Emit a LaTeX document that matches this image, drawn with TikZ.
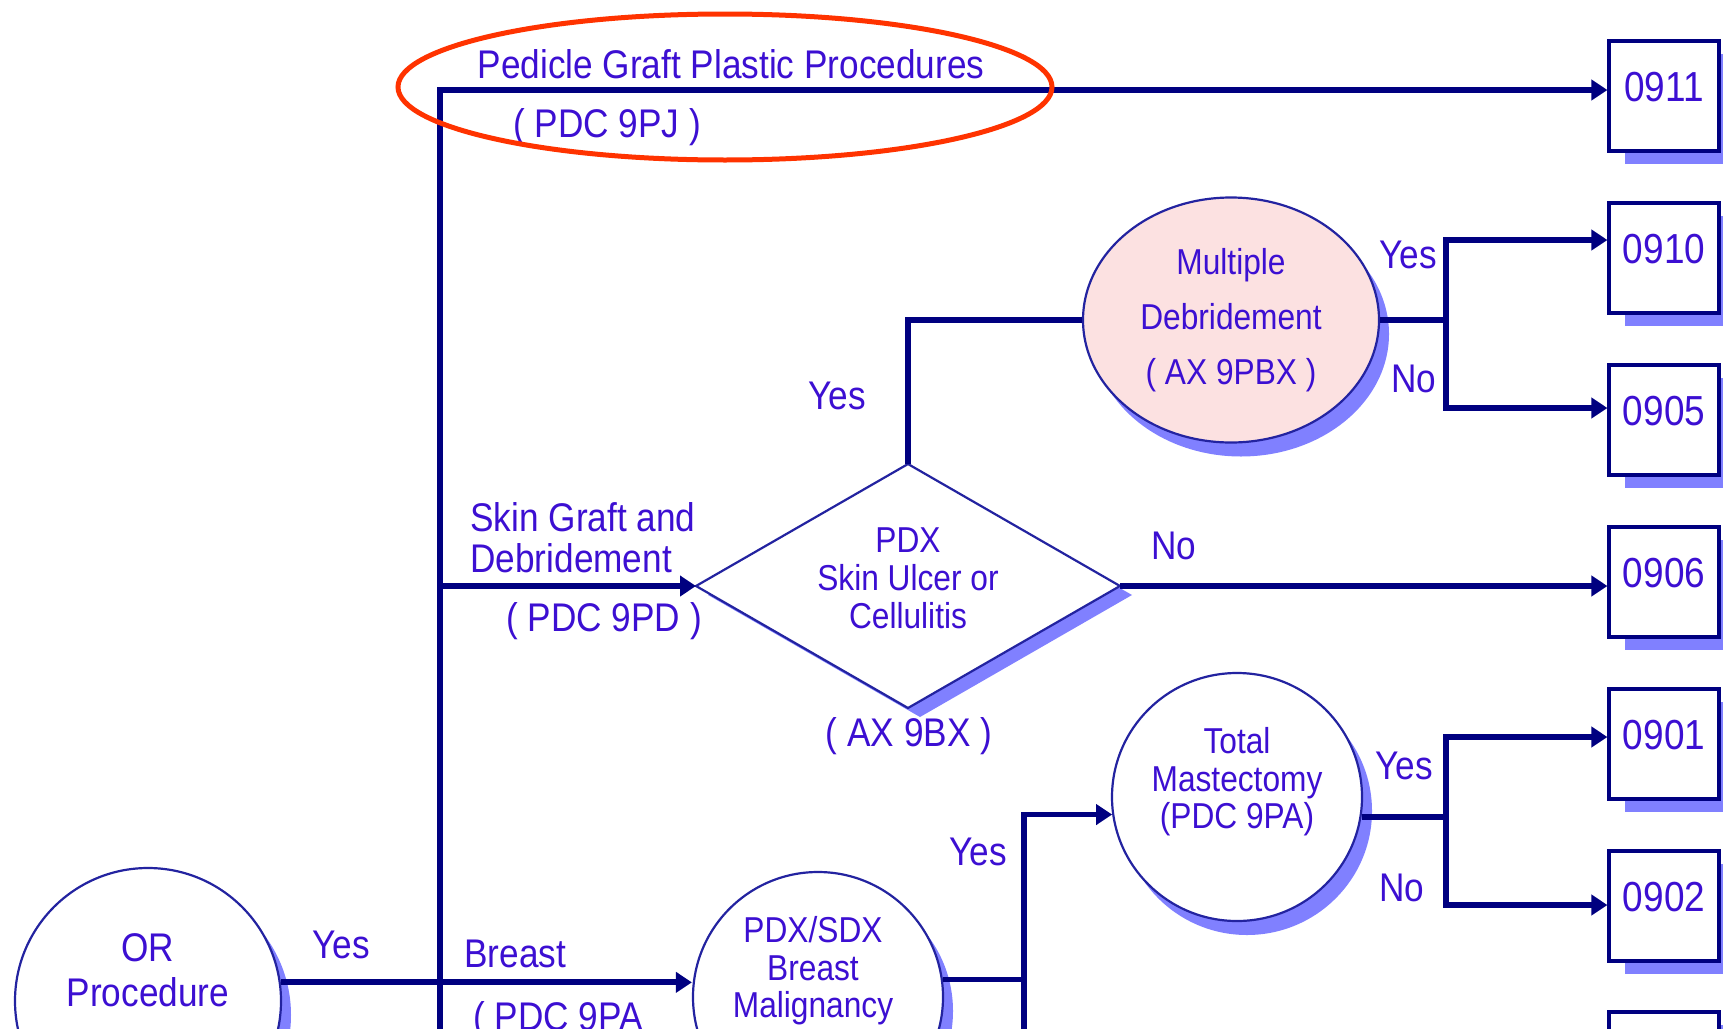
\documentclass[tikz,border=0pt]{standalone}
\usepackage{fontspec}
\setmainfont{Liberation Sans}[FakeStretch=0.88]
\usetikzlibrary{arrows.meta,shapes.geometric,shadows}
\definecolor{navy}{RGB}{0,0,128}
\definecolor{txtc}{RGB}{60,15,210}
\definecolor{shadowc}{RGB}{128,128,255}
\definecolor{edgec}{RGB}{35,35,160}
\definecolor{pinkc}{RGB}{252,225,225}
\definecolor{redc}{RGB}{255,51,0}
\begin{document}
\begin{tikzpicture}[x=0.5pt,y=-0.5pt,
  conn/.style={draw=navy,line width=2.9pt},
  arr/.style={conn,-{Triangle[length=8pt,width=10pt]}},
  outbox/.style={rectangle,draw=navy,line width=1.6pt,fill=white,minimum width=55pt,minimum height=55pt,inner sep=0pt,
    drop shadow={shadow xshift=8pt,shadow yshift=-6.5pt,fill=shadowc,opacity=1}},
  bubble/.style={ellipse,draw=edgec,line width=1.1pt,fill=white,inner sep=0pt,
    drop shadow={shadow xshift=5pt,shadow yshift=-7pt,fill=shadowc,opacity=1}},
  lbl/.style={text=txtc,inner sep=0pt,font=\fontsize{20}{24}\selectfont},
  inlbl/.style={text=txtc,inner sep=0pt,align=center},
  numlbl/.style={text=txtc,inner sep=0pt,font=\fontsize{21}{24}\selectfont},
]
\useasboundingbox (0,0) rectangle (1723,1028);

% ---- shapes ----
\node[bubble,minimum width=133pt,minimum height=133pt] (orp) at (148,1001) {};
\node[bubble,minimum width=125pt,minimum height=125pt] (brm) at (818,997) {};
\node[bubble,minimum width=125pt,minimum height=124pt] (tmx) at (1237,797) {};
\node[bubble,fill=pinkc,minimum width=148pt,minimum height=122.5pt] (mdb) at (1231,320) {};

\coordinate (dl) at (696,586);
\coordinate (dr) at (1120,586);
\coordinate (dt) at (908,464);
\coordinate (db) at (908,708);
\fill[shadowc] ([xshift=6pt,yshift=-4.5pt]dl) -- ([xshift=6pt,yshift=-4.5pt]dt) -- ([xshift=6pt,yshift=-4.5pt]dr) -- ([xshift=6pt,yshift=-4.5pt]db) -- cycle;
\draw[edgec,line width=1.1pt,fill=white] (dl) -- (dt) -- (dr) -- (db) -- cycle;

\node[outbox] (b911) at (1664,96) {};
\node[outbox] (b910) at (1664,258) {};
\node[outbox] (b905) at (1664,420) {};
\node[outbox] (b906) at (1664,582) {};
\node[outbox] (b901) at (1664,744) {};
\node[outbox] (b902) at (1664,906) {};
\node[outbox] (b9xx) at (1664,1067) {};

\node[numlbl] (t911) at ([yshift=4.5pt]b911.center) {0911};
\node[numlbl] (t910) at ([yshift=4.5pt]b910.center) {0910};
\node[numlbl] (t905) at ([yshift=4.5pt]b905.center) {0905};
\node[numlbl] (t906) at ([yshift=4.5pt]b906.center) {0906};
\node[numlbl] (t901) at ([yshift=4.5pt]b901.center) {0901};
\node[numlbl] (t902) at ([yshift=4.5pt]b902.center) {0902};

% ---- connectors ----
\coordinate (tt) at (440,90);
\coordinate (tb) at (440,1040);
\draw[arr] (tb) -- (tt) -- (b911.west |- tt);
\coordinate (sk) at (440,586);
\draw[arr] (sk) -- (dl);
\draw[arr] (dr) -- (b906.west |- dr);
\draw[conn] (dt) -- (dt |- mdb.west) -- (mdb.west);
\coordinate (jm) at (1446,320);
\coordinate (y240) at (0,240);
\coordinate (y408) at (0,408);
\draw[conn] (mdb.east) -- (jm);
\draw[arr] (jm) |- (b910.west |- y240);
\draw[arr] (jm) |- (b905.west |- y408);

\draw[arr] (orp.8) -- (orp.8 -| brm.west);
\coordinate (jbb) at (1024,1040);
\draw[conn] (brm.8) -- (brm.8 -| jbb);
\draw[arr] (jbb) -- (tmx.188 -| jbb) -- (tmx.188);
\coordinate (jt) at (tmx.-9 -| jm);
\coordinate (y737) at (0,737);
\coordinate (y905) at (0,905);
\draw[conn] (tmx.-9) -- (jt);
\draw[arr] (jt) |- (b901.west |- y737);
\draw[arr] (jt) |- (b902.west |- y905);

% ---- texts ----
\node[lbl] (pgp) at (731,64) {Pedicle Graft Plastic Procedures};
\node[lbl] (pgpc) at (607,127) {( PDC 9PJ )};
\node[lbl,anchor=west] (sg1) at (470,517) {Skin Graft and};
\node[lbl,anchor=west] (sg2) at (470,558) {Debridement};
\node[lbl] (sgc) at (604,621) {( PDC 9PD )};
\node[inlbl,font=\fontsize{18}{19}\selectfont] (dtx) at (908,578) {PDX\\Skin Ulcer or\\Cellulitis};
\node[lbl] (dcd) at (909,736) {( AX 9BX )};
\node[lbl] (dno) at (1174,546) {No};
\node[lbl] (dyes) at (837,396) {Yes};
\node[inlbl,font=\fontsize{18}{27.5}\selectfont] (mdt) at (1231,320) {Multiple\\Debridement\\( AX 9PBX )};
\node[lbl] (myes) at (1408,255) {Yes};
\node[lbl] (mno) at (1414,379) {No};
\node[inlbl,font=\fontsize{18}{18.8}\selectfont] (tmt) at (1237,782) {Total\\Mastectomy\\(PDC 9PA)};
\node[lbl] (tyes) at (1404,766) {Yes};
\node[lbl] (tno) at (1402,888) {No};
\node[lbl] (byes) at (978,852) {Yes};
\node[lbl,anchor=west] (brl) at (464,954) {Breast};
\node[lbl,anchor=west] (brc) at (473,1020) {( PDC 9PA};
\node[inlbl,font=\fontsize{20}{22.5}\selectfont] (ort) at (148,970) {OR\\Procedure};
\node[lbl] (oyes) at (341,945) {Yes};
\node[inlbl,font=\fontsize{18}{18.8}\selectfont] (brt) at (813,971) {PDX/SDX\\Breast\\Malignancy};

% ---- highlight ----
\node[ellipse,draw=redc,line width=2.5pt,minimum width=327pt,minimum height=73pt,inner sep=0pt] (hl) at (725,87) {};
\end{tikzpicture}
\end{document}
